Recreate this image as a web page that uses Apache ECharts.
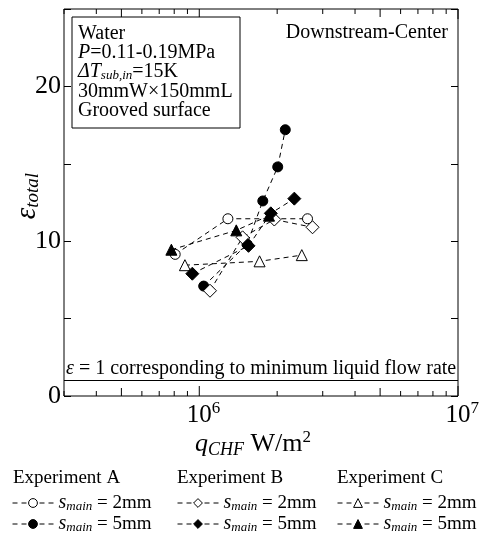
<!DOCTYPE html>
<html>
<head>
<meta charset="utf-8">
<script src="https://cdn.jsdelivr.net/npm/echarts@6/dist/echarts.min.js"></script>
<style>
html, body { margin: 0; padding: 0; background: #fff; }
#chart { width: 483px; height: 543px; }
</style>
</head>
<body>
<div id="chart"></div>
<script>
// Critical heat flux q_CHF (W/m^2) and total ratio for each run
const qA2 = [8.07e5, 1.29e6, 2.62e6];
const epsA2 = [9.15, 11.45, 11.45];
const qA5 = [1.04e6, 1.53e6, 1.76e6, 2.01e6, 2.15e6];
const epsA5 = [7.1, 9.8, 12.6, 14.8, 17.2];
const qB2 = [1.10e6, 1.47e6, 1.95e6, 2.74e6];
const epsB2 = [6.8, 10.25, 11.4, 10.9];
const qB5 = [9.4e5, 1.55e6, 1.89e6, 2.33e6];
const epsB5 = [7.9, 9.7, 11.8, 12.75];
const qC2 = [8.8e5, 1.71e6, 2.49e6];
const epsC2 = [8.45, 8.7, 9.1];
const qC5 = [7.8e5, 1.39e6, 1.86e6];
const epsC5 = [9.45, 10.7, 11.65];

// Axis ranges and ticks
const xMin = 3e5, xMax = 1e7;
const xTickValues = [3e5, 4e5, 5e5, 6e5, 7e5, 8e5, 9e5, 1e6,
  2e6, 3e6, 4e6, 5e6, 6e6, 7e6, 8e6, 9e6, 1e7];
const xLabelExponents = [6, 7];
const yMin = 0, yMax = 25, yStep = 5;
const yLabelValues = [0, 10, 20];
const epsMinFlow = 1;

const FONT = "'Liberation Serif', 'Times New Roman', serif";

function pairs(xs, ys) { return xs.map((x, i) => [x, ys[i]]); }

const lineStyle = { color: '#000', width: 1, type: [5, 4] };
const openItem = { color: '#fff', borderColor: '#000', borderWidth: 1 };
const filledItem = { color: '#000', borderColor: '#000', borderWidth: 1 };

function runSeries(name, xs, ys, symbol, size, filled) {
  return {
    name, type: 'line', data: pairs(xs, ys),
    symbol, symbolSize: size, showAllSymbol: true,
    lineStyle, itemStyle: filled ? filledItem : openItem,
    emphasis: { disabled: true }, silent: true, z: 3
  };
}

const subRich = {
  s: { fontFamily: FONT, fontSize: 20, fontStyle: 'italic', lineHeight: 20, color: '#000' },
  m: { fontFamily: FONT, fontSize: 13, fontStyle: 'italic', lineHeight: 6, verticalAlign: 'bottom', color: '#000' },
  t: { fontFamily: FONT, fontSize: 19, lineHeight: 20, color: '#000' }
};
const legendLabel = {
  A2: '2mm', A5: '5mm', B2: '2mm', B5: '5mm', C2: '2mm', C5: '5mm'
};
function legendFor(names, left) {
  return {
    data: names, orient: 'vertical', left, top: 493, padding: 0,
    itemWidth: 41, itemHeight: 11, itemGap: 1, selectedMode: false,
    itemStyle: { borderWidth: 1 }, lineStyle: { width: 1 },
    formatter: n => '{s|s}{m|main}{t| = ' + legendLabel[n] + '}',
    textStyle: { rich: subRich }
  };
}

const chart = echarts.init(document.getElementById('chart'), null, { renderer: 'canvas' });

const isPow = (v, e) => Math.abs(Math.log10(v) - e) < 1e-6;

const option = {
  animation: false,
  backgroundColor: '#fff',
  grid: { left: 64, right: 25, top: 9, bottom: 147, show: true,
          borderColor: '#000', borderWidth: 1, backgroundColor: 'transparent' },
  xAxis: {
    type: 'log', logBase: 10, min: xMin, max: xMax,
    axisLine: { show: false }, axisTick: { show: false }, splitLine: { show: false },
    axisLabel: {
      margin: 4, color: '#000',
      formatter: v => {
        for (const e of xLabelExponents) if (isPow(v, e)) return '{p|}{b|10}{e|' + e + '}';
        return '';
      },
      rich: {
        p: { width: 8.5 },
        b: { fontFamily: FONT, fontSize: 25, lineHeight: 30, color: '#000' },
        e: { fontFamily: FONT, fontSize: 17, lineHeight: 14, verticalAlign: 'top', color: '#000' }
      }
    }
  },
  yAxis: [{
    type: 'value', min: yMin, max: yMax, interval: yStep,
    axisLine: { show: false }, splitLine: { show: false },
    axisTick: { inside: true, length: 7, lineStyle: { color: '#000' } },
    axisLabel: {
      margin: 3, color: '#000', fontFamily: FONT, fontSize: 26,
      formatter: v => yLabelValues.includes(v) ? String(v) : ''
    }
  }, {
    type: 'value', position: 'right', min: yMin, max: yMax, interval: yStep,
    axisLine: { show: false }, splitLine: { show: false },
    axisTick: { inside: true, length: 7, lineStyle: { color: '#000' } },
    axisLabel: { show: false }
  }],
  legend: [
    legendFor(['A2', 'A5'], 12),
    legendFor(['B2', 'B5'], 177),
    legendFor(['C2', 'C5'], 337)
  ],
  series: [
    // log-axis tick marks along the bottom and top frame
    {
      type: 'custom', silent: true, z: 2,
      data: xTickValues.map(v => [v, yMin]),
      renderItem: (params, api) => {
        const v = api.value(0);
        const cs = params.coordSys;
        const x = api.coord([v, yMin])[0];
        const mant = v / Math.pow(10, Math.floor(Math.log10(v) + 1e-9));
        const len = Math.abs(mant - 1) < 1e-6 ? 10 : (Math.abs(mant - 5) < 1e-6 ? 8 : 5);
        const yb = cs.y + cs.height, yt = cs.y;
        const st = { stroke: '#000', lineWidth: 1 };
        return { type: 'group', children: [
          { type: 'line', shape: { x1: x, y1: yb, x2: x, y2: yb - len }, style: st },
          { type: 'line', shape: { x1: x, y1: yt, x2: x, y2: yt + len }, style: st }
        ] };
      }
    },
    Object.assign(runSeries('A2', qA2, epsA2, 'circle', 10, false), {
      markLine: {
        silent: true, symbol: ['none', 'none'], label: { show: false },
        lineStyle: { color: '#000', type: 'solid', width: 1 },
        data: [{ yAxis: epsMinFlow }]
      }
    }),
    runSeries('A5', qA5, epsA5, 'circle', 10, true),
    runSeries('B2', qB2, epsB2, 'diamond', 13, false),
    runSeries('C2', qC2, epsC2, 'triangle', 11, false),
    runSeries('B5', qB5, epsB5, 'diamond', 13, true),
    runSeries('C5', qC5, epsC5, 'triangle', 11, true)
  ],
  graphic: [
    // condition box
    { type: 'rect', shape: { x: 72, y: 17, width: 168, height: 111 },
      style: { fill: '#fff', stroke: '#000', lineWidth: 1 }, z: 10 },
    { type: 'text', z: 11, style: { x: 78, y: 34, text: 'Water', fontFamily: FONT, fontSize: 20, fill: '#000', verticalAlign: 'middle' } },
    { type: 'text', z: 11, style: { x: 78, y: 53, text: '{i|P}{n|=0.11-0.19MPa}', verticalAlign: 'middle',
      rich: { i: { fontFamily: FONT, fontSize: 20, fontStyle: 'italic', lineHeight: 20 },
              n: { fontFamily: FONT, fontSize: 20, lineHeight: 20 } } } },
    { type: 'text', z: 11, style: { x: 78, y: 72, text: '{i|ΔT}{b|sub,in}{n|=15K}', verticalAlign: 'middle',
      rich: { i: { fontFamily: FONT, fontSize: 20, fontStyle: 'italic', lineHeight: 20 },
              b: { fontFamily: FONT, fontSize: 13, fontStyle: 'italic', lineHeight: 6, verticalAlign: 'bottom' },
              n: { fontFamily: FONT, fontSize: 20, lineHeight: 20 } } } },
    { type: 'text', z: 11, style: { x: 78, y: 92, text: '30mmW×150mmL', fontFamily: FONT, fontSize: 20, fill: '#000', verticalAlign: 'middle' } },
    { type: 'text', z: 11, style: { x: 78, y: 111, text: 'Grooved surface', fontFamily: FONT, fontSize: 20, fill: '#000', verticalAlign: 'middle' } },
    // location label
    { type: 'text', z: 11, style: { x: 448, y: 33, text: 'Downstream-Center', align: 'right', verticalAlign: 'middle',
      fontFamily: FONT, fontSize: 20, fill: '#000' } },
    // minimum-flow reference line label
    { type: 'text', z: 11, style: { x: 66, y: 369, text: '{e|ε}{n| = 1 corresponding to minimum liquid flow rate}', verticalAlign: 'middle',
      rich: { e: { fontFamily: FONT, fontSize: 20, fontStyle: 'italic' }, n: { fontFamily: FONT, fontSize: 20 } } } },
    // axis titles
    { type: 'text', z: 11, style: { x: 195, y: 444, text: '{q|q}{c|CHF}{n| W/m}{s|2}', verticalAlign: 'middle',
      rich: { q: { fontFamily: FONT, fontSize: 26, fontStyle: 'italic', lineHeight: 30 },
              c: { fontFamily: FONT, fontSize: 18, fontStyle: 'italic', lineHeight: 10, verticalAlign: 'bottom' },
              n: { fontFamily: FONT, fontSize: 26, lineHeight: 30 },
              s: { fontFamily: FONT, fontSize: 17, lineHeight: 14, verticalAlign: 'top' } } } },
    { type: 'text', z: 11, x: 27, y: 196, rotation: Math.PI / 2,
      style: { x: 0, y: 0, text: '{e|ε}{t|total}', align: 'center', verticalAlign: 'middle',
      rich: { e: { fontFamily: FONT, fontSize: 29, fontStyle: 'italic', lineHeight: 30 },
              t: { fontFamily: FONT, fontSize: 19, fontStyle: 'italic', lineHeight: 10, verticalAlign: 'bottom' } } } },
    // legend group headings
    { type: 'text', z: 11, style: { x: 13, y: 478, text: 'Experiment A', fontFamily: FONT, fontSize: 19, fill: '#000', verticalAlign: 'middle' } },
    { type: 'text', z: 11, style: { x: 177, y: 478, text: 'Experiment B', fontFamily: FONT, fontSize: 19, fill: '#000', verticalAlign: 'middle' } },
    { type: 'text', z: 11, style: { x: 337, y: 478, text: 'Experiment C', fontFamily: FONT, fontSize: 19, fill: '#000', verticalAlign: 'middle' } }
  ]
};

chart.setOption(option);
</script>
</body>
</html>
